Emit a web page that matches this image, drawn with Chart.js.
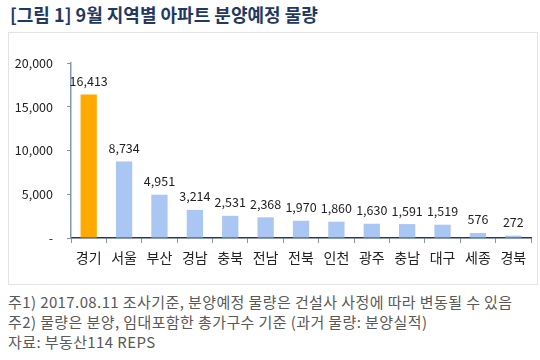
<!DOCTYPE html>
<html><head><meta charset="utf-8">
<script src="https://cdn.jsdelivr.net/npm/chart.js@4/dist/chart.umd.min.js"></script>
<style>
html,body{margin:0;padding:0;background:#fff;}
#wrap{position:relative;width:540px;height:360px;overflow:hidden;font-family:"Noto Sans CJK KR",sans-serif;}
#title{position:absolute;left:10px;top:1px;font-size:18px;line-height:26px;font-weight:bold;color:#1f3864;white-space:nowrap;}
#box{position:absolute;left:8px;top:32px;width:528px;height:251px;border:1px solid #e3e3e3;}
#cv{position:absolute;left:0;top:0;}
.note{position:absolute;left:8px;font-size:15px;line-height:20px;color:#595959;white-space:nowrap;letter-spacing:0.4px;}
</style></head>
<body><div id="wrap">
<div id="title">[그림 1] 9월 지역별 아파트 분양예정 물량</div>
<div id="box"></div>
<canvas id="cv" width="540" height="290"></canvas>
<div class="note" style="top:292px">주1) 2017.08.11 조사기준, 분양예정 물량은 건설사 사정에 따라 변동될 수 있음</div>
<div class="note" style="top:312px">주2) 물량은 분양, 임대포함한 총가구수 기준 (과거 물량: 분양실적)</div>
<div class="note" style="top:332px">자료: 부동산114 REPS</div>
</div>
<script>
const categories = ["경기","서울","부산","경남","충북","전남","전북","인천","광주","충남","대구","세종","경북"];
const values = [16413,8734,4951,3214,2531,2368,1970,1860,1630,1591,1519,576,272];
const yTicks = [0,5000,10000,15000,20000];
const highlightColor = "#ffaa00";
const baseColor = "#aac6f2";

const labelPlugin = {
  id:'vals',
  afterDatasetsDraw(chart){
    const ctx = chart.ctx;
    const meta = chart.getDatasetMeta(0);
    ctx.save();
    ctx.font = '12.5px "Noto Sans CJK KR", sans-serif';
    ctx.fillStyle = '#222';
    ctx.textAlign = 'center';
    ctx.textBaseline = 'bottom';
    meta.data.forEach((el,i)=>{
      ctx.fillText(values[i].toLocaleString('en-US'), el.x, el.y - 7);
    });
    ctx.restore();
  }
};

new Chart(document.getElementById('cv'), {
  type:'bar',
  data:{labels:categories, datasets:[{data:values,
    backgroundColor: values.map((v,i)=> i===0 ? highlightColor : baseColor),
    barPercentage:0.46, categoryPercentage:1}]},
  options:{
    responsive:false, animation:false,
    layout:{padding:{top:63,right:9,left:0,bottom:0}},
    plugins:{legend:{display:false},tooltip:{enabled:false}},
    scales:{
      x:{
        offset:true,
        afterFit(s){ s.height = 52; },
        grid:{offset:true, drawOnChartArea:false, drawTicks:true, tickLength:5, tickColor:'#8497b0'},
        border:{color:'#1f3864', width:1.5},
        ticks:{font:{size:14, family:'"Noto Sans CJK KR", sans-serif'}, color:'#222', padding:6, maxRotation:0, autoSkip:false}
      },
      y:{
        min:0, max:20000,
        afterFit(s){ s.width = 71; },
        afterBuildTicks(s){ s.ticks = yTicks.map(v=>({value:v})); },
        grid:{drawOnChartArea:false, drawTicks:true, tickLength:4, tickColor:'#8497b0'},
        border:{color:'#8497b0', width:1.5},
        ticks:{font:{size:12.5, family:'"Noto Sans CJK KR", sans-serif'}, color:'#222', padding:14,
          callback:(v)=> v===0 ? '-' : v.toLocaleString('en-US')}
      }
    }
  },
  plugins:[labelPlugin]
});
</script>
</body></html>
